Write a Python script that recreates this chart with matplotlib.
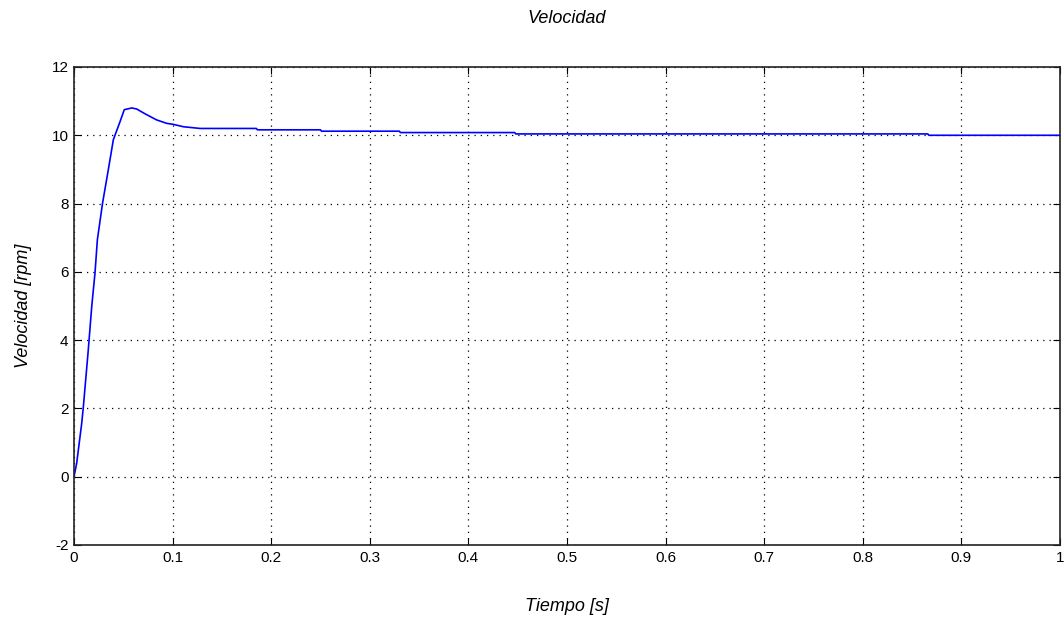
import numpy as np
import matplotlib
matplotlib.use("Agg")
import matplotlib.pyplot as plt

# data (time in s, speed in rpm)
tiempo = [0.0, 0.0027, 0.0078, 0.0095, 0.0145, 0.018, 0.0213, 0.0237, 0.029,
          0.0348, 0.0399, 0.0467, 0.051, 0.0585, 0.0636, 0.072, 0.0838, 0.094,
          0.1007, 0.111, 0.128, 0.185, 0.186, 0.25, 0.251, 0.33, 0.331, 0.447,
          0.448, 0.866, 0.867, 1.0]
velocidad = [0.0, 0.39, 1.56, 2.05, 3.72, 4.99, 5.97, 6.94, 8.02,
             8.99, 9.87, 10.4, 10.75, 10.8, 10.77, 10.63, 10.45, 10.35,
             10.32, 10.25, 10.2, 10.2, 10.16, 10.16, 10.12, 10.12, 10.08, 10.08,
             10.04, 10.04, 10.0, 10.0]

x_ticks = np.arange(0, 1.01, 0.1)
y_ticks = np.arange(-2, 13, 2)
x_labels = ["0", "0.1", "0.2", "0.3", "0.4", "0.5", "0.6", "0.7", "0.8", "0.9", "1"]

plt.rcParams["font.family"] = ["Liberation Sans", "DejaVu Sans"]
plt.rcParams["axes.unicode_minus"] = False

fig = plt.figure(figsize=(10.64, 6.27), dpi=100)
ax = fig.add_axes([74 / 1064, 1 - 545 / 627, 986 / 1064, 478 / 627])

ax.plot(tiempo, velocidad, color="#0000ff", linewidth=1.2)

ax.set_xlim(0, 1)
ax.set_ylim(-2, 12)
ax.set_xticks(x_ticks)
ax.set_xticklabels(x_labels)
ax.set_yticks(y_ticks)
ax.grid(True, color="black", linestyle=(0, (1, 4)), linewidth=0.9)
ax.tick_params(direction="in", top=True, right=True, labelsize=11, length=5,
               pad=4, colors="black")
for s in ax.spines.values():
    s.set_linewidth(1.2)
    s.set_color("#222222")

ax.set_title("Velocidad", fontsize=13, style="italic", pad=32)
ax.set_xlabel("Tiempo [s]", fontsize=13, style="italic", labelpad=24)
ax.set_ylabel("Velocidad [rpm]", fontsize=13, style="italic", labelpad=14)

fig.savefig("out.png", dpi=100)
